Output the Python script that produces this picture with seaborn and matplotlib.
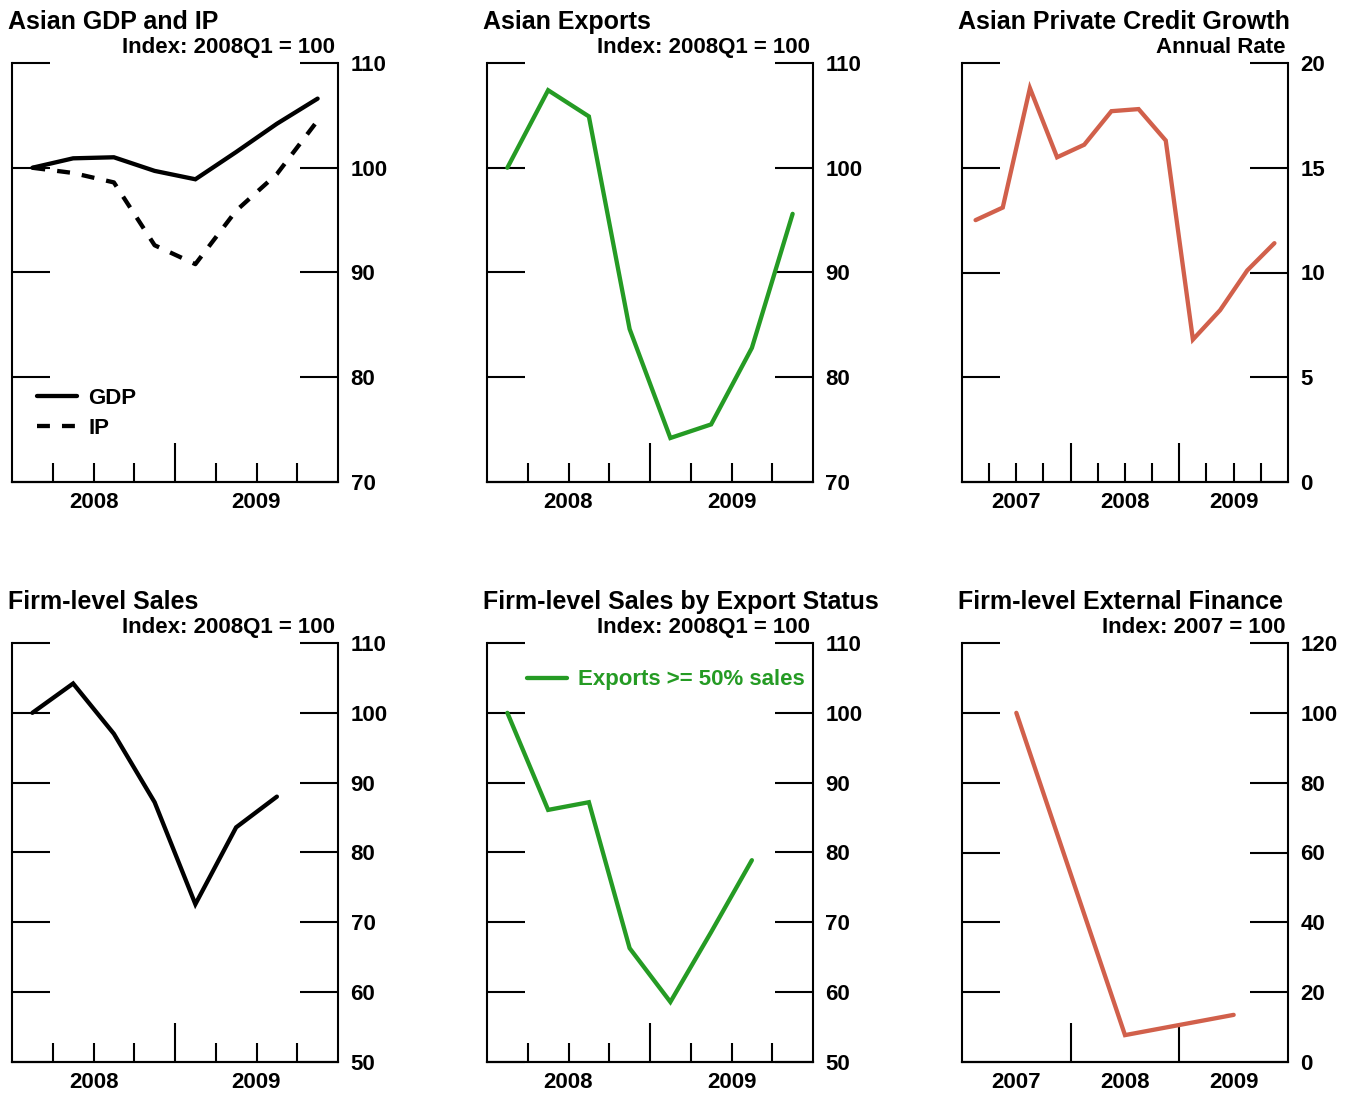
import matplotlib
matplotlib.use("Agg")
import matplotlib.pyplot as plt
import seaborn as sns
import pandas as pd

# quarters and years on the x axes
q_0809 = ["2008Q1", "2008Q2", "2008Q3", "2008Q4", "2009Q1", "2009Q2", "2009Q3", "2009Q4"]
q_0709 = ["2007Q1", "2007Q2", "2007Q3", "2007Q4"] + q_0809
years_fin = [2007, 2008, 2009]

# series
gdp = [100.0, 100.9, 101.0, 99.7, 98.9, 101.5, 104.2, 106.6]
ip = [100.0, 99.5, 98.6, 92.6, 90.8, 95.9, 99.4, 104.5]
exports = [100.0, 107.4, 104.9, 84.6, 74.2, 75.5, 82.8, 95.6]
credit = [12.5, 13.1, 18.8, 15.5, 16.1, 17.7, 17.8, 16.3, 6.8, 8.2, 10.1, 11.4]
firm_sales = [100.0, 104.2, 97.0, 87.2, 72.6, 83.6, 88.0]
export_sales = [100.0, 86.1, 87.2, 66.3, 58.6, 68.6, 78.9]
ext_finance = [100.0, 7.7, 13.5]

GREEN = "#259B24"
RED = "#D1604B"
LW = 3.1

sns.set_style("ticks")
plt.rcParams["font.family"] = ["Liberation Sans", "DejaVu Sans"]
plt.rcParams["font.weight"] = "bold"
for k in ["text.color", "axes.labelcolor", "xtick.color", "ytick.color", "axes.edgecolor"]:
    plt.rcParams[k] = "black"


def qpos(labels):
    # quarter midpoint in fractional years
    return [int(s[:4]) + (int(s[5]) - 0.5) / 4 for s in labels]


def setup(ax, years, yticks, title, sub, quarters=True):
    ax.set_xlim(years[0], years[-1] + 1)
    ax.set_ylim(yticks[0], yticks[-1])
    ax.spines["top"].set_visible(False)
    for s in ["left", "right", "bottom"]:
        ax.spines[s].set_linewidth(1.5)
        ax.spines[s].set_color("black")
    ax.set_yticks(yticks)
    ax.tick_params(axis="y", left=True, right=True, labelleft=False, labelright=True,
                   direction="in", length=27.5, width=1.5, pad=9, labelsize=16, colors="black")
    ax.xaxis.remove_overlapping_locs = False
    ax.set_xticks([y + 0.5 for y in years], [str(y) for y in years])
    ax.tick_params(axis="x", which="major", length=0, pad=7, labelsize=16, colors="black")
    if quarters:
        minor = [y + k / 4 for y in years for k in (1, 2, 3)]
        ax.set_xticks(minor, minor=True)
        ax.tick_params(axis="x", which="minor", bottom=True, direction="in", length=13.7,
                       width=1.5, color="black")
    sec = ax.secondary_xaxis("bottom")
    sec.set_xticks(years[1:], labels=[])
    sec.tick_params(direction="in", length=28, width=1.5, color="black")
    sec.spines["bottom"].set_linewidth(1.5)
    ax.set_xlabel("")
    ax.set_ylabel("")
    ax.text(-0.012, 1.082, title, transform=ax.transAxes, fontsize=18, ha="left", va="baseline")
    ax.text(0.991, 1.024, sub, transform=ax.transAxes, fontsize=16, ha="right", va="baseline")


fig = plt.figure(figsize=(13.52, 10.93), dpi=100)
W, H = 1352, 1093
lefts = [12, 487, 962]
width = 326


def make_ax(col, top):
    return fig.add_axes([lefts[col] / W, 1 - (top + 419) / H, width / W, 419 / H])


# 1. Asian GDP and IP
ax = make_ax(0, 63)
sns.lineplot(x=qpos(q_0809), y=gdp, ax=ax, color="black", linewidth=LW, label="GDP")
sns.lineplot(x=qpos(q_0809), y=ip, ax=ax, color="black", linewidth=LW, label="IP")
ax.lines[-1].set_dashes([3.0, 2.8])
setup(ax, [2008, 2009], [70, 80, 90, 100, 110], "Asian GDP and IP", "Index: 2008Q1 = 100")
ax.legend(loc="upper left", bbox_to_anchor=(0.077, 0.2243), frameon=False, fontsize=16,
          borderpad=0, borderaxespad=0, handlelength=1.8, handletextpad=0.5, labelspacing=0.4)

# 2. Asian Exports
ax = make_ax(1, 63)
sns.lineplot(x=qpos(q_0809), y=exports, ax=ax, color=GREEN, linewidth=LW)
setup(ax, [2008, 2009], [70, 80, 90, 100, 110], "Asian Exports", "Index: 2008Q1 = 100")

# 3. Asian Private Credit Growth
ax = make_ax(2, 63)
sns.lineplot(x=qpos(q_0709), y=credit, ax=ax, color=RED, linewidth=LW)
setup(ax, [2007, 2008, 2009], [0, 5, 10, 15, 20], "Asian Private Credit Growth", "Annual Rate")

# 4. Firm-level Sales
ax = make_ax(0, 643)
sns.lineplot(x=qpos(q_0809[:7]), y=firm_sales, ax=ax, color="black", linewidth=LW)
setup(ax, [2008, 2009], [50, 60, 70, 80, 90, 100, 110], "Firm-level Sales", "Index: 2008Q1 = 100")

# 5. Firm-level Sales by Export Status
ax = make_ax(1, 643)
sns.lineplot(x=qpos(q_0809[:7]), y=export_sales, ax=ax, color=GREEN, linewidth=LW,
             label="Exports >= 50% sales")
setup(ax, [2008, 2009], [50, 60, 70, 80, 90, 100, 110], "Firm-level Sales by Export Status",
      "Index: 2008Q1 = 100")
ax.legend(loc="center left", bbox_to_anchor=(0.123, 0.912), frameon=False, fontsize=16,
          borderpad=0, borderaxespad=0, handlelength=1.8, handletextpad=0.5, labelcolor="linecolor")

# 6. Firm-level External Finance
ax = make_ax(2, 643)
sns.lineplot(x=[y + 0.5 for y in years_fin], y=ext_finance, ax=ax, color=RED, linewidth=LW)
setup(ax, years_fin, [0, 20, 40, 60, 80, 100, 120], "Firm-level External Finance",
      "Index: 2007 = 100", quarters=False)

for a in fig.axes:
    for ln in a.lines:
        ln.set_solid_joinstyle("miter")

fig.savefig("out.png", dpi=100)
